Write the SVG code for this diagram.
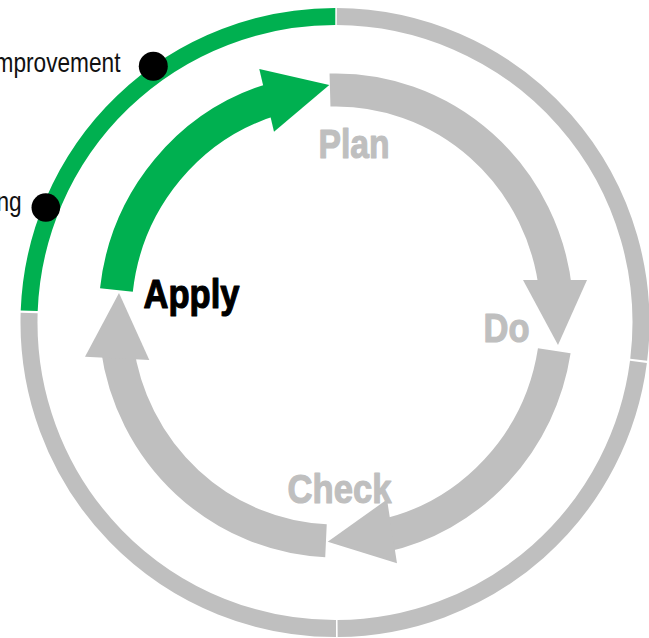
<svg xmlns="http://www.w3.org/2000/svg" width="649" height="638" viewBox="0 0 649 638">
<style>
.ring{fill:none;stroke-width:17;stroke-linecap:butt}
.body{fill:none;stroke-width:33;stroke-linecap:butt}
.g{stroke:#BFBFBF}
.gr{stroke:#00B050}
.hg{fill:#BFBFBF}
.hgr{fill:#00B050}
.lbl{font-family:"Liberation Sans",Arial,sans-serif;font-weight:bold;font-size:41px;stroke-width:1.2;stroke-linejoin:round}
.note{font-family:"Liberation Sans",Arial,sans-serif;font-size:27px;fill:#111}
</style>
<rect width="649" height="638" fill="#fff"/>
<g id="outer-ring">
<path class="ring gr" d="M29.2 310.8 A306 306 0 0 1 335.3 16.5"/>
<path class="ring g" d="M336.8 16.5 A306 306 0 0 1 638.7 359.8"/>
<path class="ring g" d="M638.45 361.9 A306 306 0 0 1 337.6 628.5"/>
<path class="ring g" d="M336.0 628.5 A306 306 0 0 1 29.15 312.9"/>
</g>
<g id="connectors">
<g id="arrow-plan">
<path class="body g" d="M330.0 90.08 A221 225.5 0 0 1 555.79 291.93"/>
<polygon class="hg" points="523,280 587,280 558,345"/>
</g>
<g id="arrow-do">
<path class="body g" d="M554.28 350.78 A221 225.5 0 0 1 381.95 536.07"/>
<polygon class="hg" points="387,499.5 397,563.3 327.7,541.7"/>
</g>
<g id="arrow-check">
<path class="body g" d="M325.98 540.77 A221 225.5 0 0 1 117.15 346.88"/>
<polygon class="hg" points="85,356.7 149.3,360 119,293"/>
</g>
<g id="arrow-apply">
<path class="body gr" d="M116.42 289.97 A221 225.5 0 0 1 275.09 98.73"/>
<polygon class="hgr" points="259.3,69 274,131.7 329.3,85"/>
</g>
</g>
<g id="node-plan"><text class="lbl" x="318.5" y="157.5" fill="#BFBFBF" stroke="#BFBFBF" textLength="71" lengthAdjust="spacingAndGlyphs">Plan</text></g>
<g id="node-do"><text class="lbl" x="483.5" y="341.5" fill="#BFBFBF" stroke="#BFBFBF" textLength="46" lengthAdjust="spacingAndGlyphs">Do</text></g>
<g id="node-check"><text class="lbl" x="287.5" y="502.5" fill="#BFBFBF" stroke="#BFBFBF" textLength="104" lengthAdjust="spacingAndGlyphs">Check</text></g>
<g id="node-apply"><text class="lbl" x="143.5" y="307.5" fill="#000" stroke="#000" textLength="96" lengthAdjust="spacingAndGlyphs">Apply</text></g>
<g id="milestone-improvement">
<circle cx="153.3" cy="66.3" r="14.5" fill="#000"/>
<text class="note" text-anchor="end" transform="translate(120.5 72) scale(0.84 1)">Improvement</text>
</g>
<g id="milestone-learning">
<circle cx="45.8" cy="207.5" r="14.3" fill="#000"/>
<text class="note" text-anchor="end" transform="translate(21.7 211) scale(0.84 1)">Learning</text>
</g>
</svg>
